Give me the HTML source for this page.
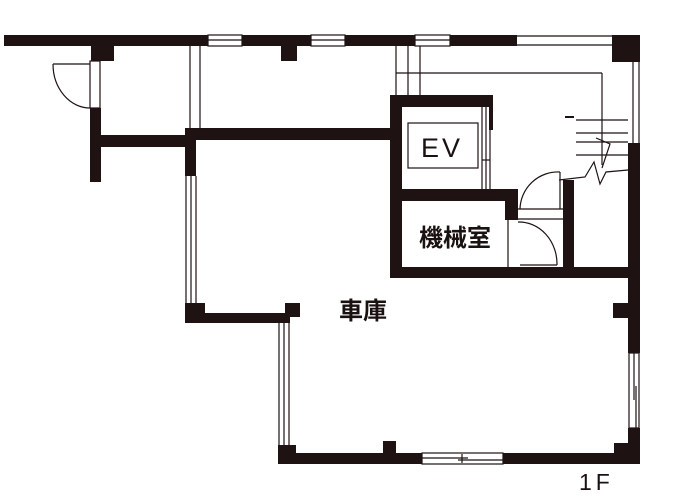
<!DOCTYPE html>
<html><head><meta charset="utf-8"><style>
html,body{margin:0;padding:0;background:#fff;width:673px;height:501px;overflow:hidden}
svg{display:block}
text{font-family:"Liberation Sans","Noto Sans CJK JP",sans-serif;fill:#1a1111}
</style></head><body>
<svg width="673" height="501" viewBox="0 0 673 501" xmlns="http://www.w3.org/2000/svg">
<g fill="#1e1212">
<rect x="4" y="35" width="204" height="11"/>
<rect x="242" y="35" width="69" height="11"/>
<rect x="345" y="35" width="70" height="11"/>
<rect x="450" y="35" width="67" height="11"/>
<rect x="612" y="35" width="28" height="27"/>
<rect x="91" y="46" width="23" height="15"/>
<rect x="281" y="46" width="16" height="15"/>
<rect x="90" y="108" width="11" height="74"/>
<rect x="100" y="135" width="95" height="12"/>
<rect x="185" y="128" width="205" height="12"/>
<rect x="185" y="128" width="11" height="48"/>
<rect x="185" y="303" width="20" height="20"/>
<rect x="185" y="313" width="105" height="10"/>
<rect x="285" y="303" width="15" height="14"/>
<rect x="278" y="445" width="18" height="18"/>
<rect x="278" y="453" width="144" height="11"/>
<rect x="383" y="441" width="13" height="14"/>
<rect x="503" y="453" width="137" height="11"/>
<rect x="614" y="443" width="26" height="21"/>
<rect x="628" y="143" width="12" height="210"/>
<rect x="628" y="428" width="12" height="36"/>
<rect x="613" y="303" width="16" height="15"/>
<rect x="390" y="95" width="12" height="183"/>
<rect x="390" y="95" width="103" height="12"/>
<rect x="489" y="95" width="4" height="35"/>
<rect x="390" y="189" width="128" height="12"/>
<rect x="505" y="189" width="13" height="31"/>
<rect x="390" y="267" width="240" height="11"/>
<rect x="563" y="180" width="11" height="88"/>
</g>
<g fill="none" stroke="#1e1212" stroke-width="1.2">
<rect x="208" y="35" width="34" height="11"/><line x1="208" y1="40" x2="242" y2="40"/>
<rect x="311" y="35" width="34" height="11"/><line x1="311" y1="40" x2="345" y2="40"/>
<rect x="415" y="35" width="35" height="11"/><line x1="415" y1="40" x2="450" y2="40"/>
<line x1="517" y1="36" x2="612" y2="36"/><line x1="517" y1="45" x2="612" y2="45"/>
<rect x="90" y="61" width="10" height="47"/>
<line x1="53" y1="64" x2="90" y2="64"/>
<path d="M53 64 A37 44 0 0 0 90 108"/>
<line x1="190" y1="46" x2="190" y2="128"/><line x1="200" y1="46" x2="200" y2="128"/>
<line x1="186" y1="176" x2="186" y2="303"/><line x1="191" y1="176" x2="191" y2="303"/><line x1="196" y1="176" x2="196" y2="303"/>
<line x1="279" y1="323" x2="279" y2="445"/><line x1="284" y1="323" x2="284" y2="445"/><line x1="289" y1="323" x2="289" y2="445"/>
<rect x="422" y="453" width="81" height="11"/><line x1="422" y1="458" x2="468" y2="458"/><line x1="458" y1="460" x2="503" y2="460"/><line x1="462" y1="454" x2="462" y2="463"/>
<rect x="629" y="353" width="10" height="75"/><line x1="634" y1="353" x2="634" y2="400"/><line x1="636" y1="386" x2="636" y2="428"/>
<line x1="633" y1="62" x2="633" y2="143"/><line x1="639" y1="62" x2="639" y2="143"/>
<line x1="396" y1="46" x2="396" y2="95"/><line x1="408" y1="46" x2="408" y2="95"/><line x1="420" y1="46" x2="420" y2="95"/>
<line x1="396" y1="73" x2="602" y2="73"/>
<line x1="602" y1="73" x2="602" y2="165"/>
<line x1="576" y1="120" x2="628" y2="120"/><line x1="576" y1="133" x2="628" y2="133"/><line x1="576" y1="142" x2="628" y2="142"/><line x1="576" y1="155" x2="628" y2="155"/>
<path d="M559 180 L585 177 L594 162 L600 184 L606 172 L628 170"/>
<path d="M596 138 L610 144 L602 168"/>
<rect x="408" y="123" width="70" height="45"/>
<line x1="482" y1="107" x2="482" y2="189"/><line x1="486" y1="107" x2="486" y2="189"/><line x1="490" y1="130" x2="490" y2="189"/><line x1="482" y1="160" x2="490" y2="160"/>
<line x1="518" y1="219" x2="563" y2="219"/><line x1="518" y1="209" x2="563" y2="209"/>
<path d="M520 209 A38 38 0 0 1 560 172"/><line x1="560" y1="172" x2="560" y2="209"/>
<line x1="508" y1="220" x2="508" y2="267"/>
<path d="M518 222 A38 42 0 0 1 557 265"/><line x1="520" y1="265" x2="557" y2="265"/>
</g>
<rect x="565" y="116" width="9" height="2" fill="#1e1212"/>
<text x="421" y="157" font-size="27" letter-spacing="3">EV</text>
<text x="455" y="246" font-size="24" font-weight="bold" text-anchor="middle">機械室</text>
<text x="363" y="319" font-size="24" font-weight="bold" text-anchor="middle">車庫</text>
<text x="579" y="490" font-size="23" letter-spacing="4">1F</text>
</svg>
</body></html>
